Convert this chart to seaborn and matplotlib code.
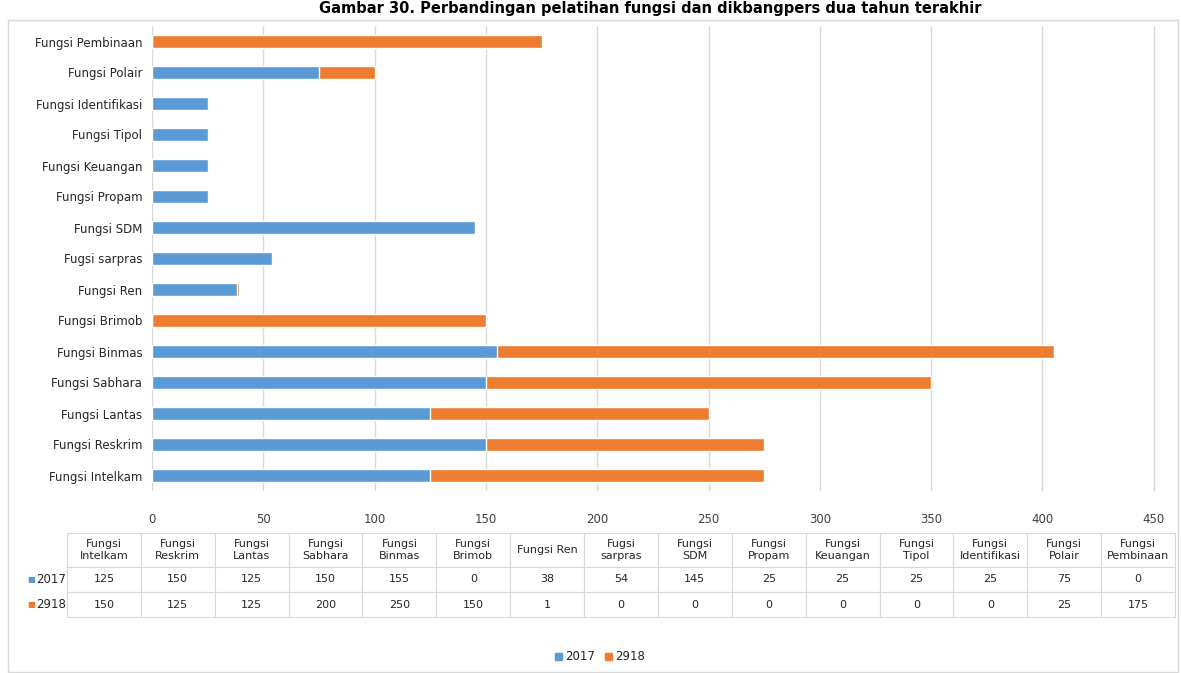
import pandas as pd
import matplotlib.pyplot as plt
import seaborn as sns
from matplotlib.patches import Rectangle, Patch

# categories in table order (bottom bar first)
categories = ['Fungsi Intelkam', 'Fungsi Reskrim', 'Fungsi Lantas', 'Fungsi Sabhara',
              'Fungsi Binmas', 'Fungsi Brimob', 'Fungsi Ren', 'Fugsi sarpras',
              'Fungsi SDM', 'Fungsi Propam', 'Fungsi Keuangan', 'Fungsi Tipol',
              'Fungsi Identifikasi', 'Fungsi Polair', 'Fungsi Pembinaan']
table_headers = ['Fungsi\nIntelkam', 'Fungsi\nReskrim', 'Fungsi\nLantas', 'Fungsi\nSabhara',
                 'Fungsi\nBinmas', 'Fungsi\nBrimob', 'Fungsi Ren', 'Fugsi\nsarpras',
                 'Fungsi\nSDM', 'Fungsi\nPropam', 'Fungsi\nKeuangan', 'Fungsi\nTipol',
                 'Fungsi\nIdentifikasi', 'Fungsi\nPolair', 'Fungsi\nPembinaan']
vals_2017 = [125, 150, 125, 150, 155, 0, 38, 54, 145, 25, 25, 25, 25, 75, 0]
vals_2918 = [150, 125, 125, 200, 250, 150, 1, 0, 0, 0, 0, 0, 0, 25, 175]
series_names = ['2017', '2918']

blue = '#5B9BD5'
orange = '#ED7D31'
grid_c = '#D9D9D9'

df = pd.DataFrame({'Fungsi': categories, '2017': vals_2017, '2918': vals_2918})
df['total'] = df['2017'] + df['2918']
order = categories[::-1]

sns.set_style('white')
plt.rcParams['font.family'] = ['DejaVu Sans']

fig = plt.figure(figsize=(11.81, 6.73), dpi=100)
W, H = 1181, 673

# outer frame
fig.patches.append(Rectangle((8 / W, 1 - 672 / H), 1170 / W, 652 / H, transform=fig.transFigure,
                             fill=False, edgecolor=grid_c, linewidth=1))

ax = fig.add_axes([152 / W, 1 - 491 / H, (1156 - 152) / W, (491 - 26) / H])

# stacked bars: total (orange) underneath, 2017 (blue) on top
sns.barplot(data=df, y='Fungsi', x='total', order=order, color=orange, width=0.43,
            saturation=1, ax=ax, orient='h')
sns.barplot(data=df, y='Fungsi', x='2017', order=order, color=blue, width=0.43,
            saturation=1, ax=ax, orient='h')

ax.set_xlim(0, 451)
ax.set_xticks(range(0, 451, 50))
ax.grid(axis='x', color=grid_c, linewidth=1)
ax.set_axisbelow(True)
sns.despine(ax=ax, left=True, bottom=True)
ax.set_xlabel('')
ax.set_ylabel('')
ax.tick_params(axis='x', length=0, pad=16, labelsize=8.5, colors='#404040')
ax.tick_params(axis='y', length=0, pad=7, labelsize=8.5, colors='#262626')

# data table below the chart
tax = fig.add_axes([67 / W, 1 - 617 / H, (1175 - 67) / W, (617 - 533) / H])
tax.axis('off')
cell_text = [[str(v) for v in vals_2017], [str(v) for v in vals_2918]]
tbl = tax.table(cellText=cell_text, colLabels=table_headers,
                rowLabels=['' for s in series_names],
                cellLoc='center', rowLoc='left', bbox=[0, 0, 1, 1])
tbl.auto_set_font_size(False)
tbl.set_fontsize(8)
for (r, c), cell in tbl.get_celld().items():
    cell.set_edgecolor(grid_c)
    cell.set_linewidth(0.8)
    cell.get_text().set_color('#262626')
    if c == -1:
        cell.set_width(45 / 1108)
    else:
        cell.set_width(1 / 15)
    cell.set_height(34 if r == 0 else 25)
for r, (colr, name) in enumerate(zip([blue, orange], series_names)):
    y = 1 - (34 + 25 * r + 12.5) / 84
    tax.text(-40 / 1108, y, '\u25A0', color=colr, fontsize=6, va='center', ha='left',
             transform=tax.transAxes)
    tax.text(-31 / 1108, y, name, color='#262626', fontsize=8.5, va='center', ha='left',
             transform=tax.transAxes)

# legend
handles = [Patch(color=blue, label='2017'), Patch(color=orange, label='2918')]
fig.legend(handles=handles, loc='center', bbox_to_anchor=(600 / W, 1 - 657 / H), ncol=2,
           frameon=False, fontsize=8.5, handlelength=0.6, handleheight=0.6,
           handletextpad=0.3, columnspacing=0.8)

# title
fig.text(650 / W, 1 - 1 / H, 'Gambar 30. Perbandingan pelatihan fungsi dan dikbangpers dua tahun terakhir',
         ha='center', va='top', fontsize=10.5, fontweight='bold', color='black')

fig.savefig('out.png', dpi=100)
